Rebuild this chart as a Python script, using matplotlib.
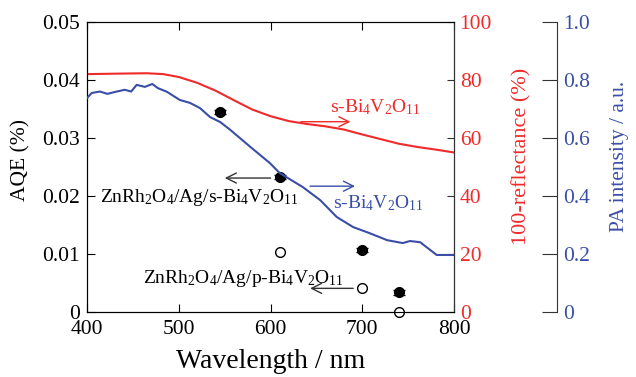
import numpy as np
import matplotlib.pyplot as plt

plt.rcParams['font.family'] = ['Liberation Serif', 'DejaVu Serif']
plt.rcParams['mathtext.fontset'] = 'custom'
plt.rcParams['mathtext.rm'] = 'Liberation Serif'
plt.rcParams['mathtext.it'] = 'Liberation Serif'

RED = '#f02a2a'
BLUE = '#3a4ea8'

# AQE points (left axis)
wl_s = [545, 610, 700, 740]
aqe_s = [0.0345, 0.0233, 0.0107, 0.0034]
wl_p = [610, 700, 740]
aqe_p = [0.0104, 0.0041, 0.0]

# 100-reflectance of s-Bi4V2O11 (right axis, %)
wl_refl = [400, 420, 440, 465, 483, 500, 520, 540, 560, 580, 600, 620, 640,
           660, 680, 700, 720, 740, 760, 780, 800]
refl = [82.0, 82.1, 82.2, 82.3, 82.0, 81.0, 79.0, 76.3, 73.0, 69.8, 67.5, 65.8,
        64.8, 64.0, 62.9, 61.2, 59.6, 58.0, 56.9, 56.0, 55.0]

# PA spectrum of s-Bi4V2O11 (third axis, a.u.)
wl_pa = [400, 405, 414, 422, 431, 441, 448, 454, 463, 471, 477, 487, 501, 512,
         523, 534, 545, 556, 578, 599, 610, 635, 654, 672, 690, 708, 727, 744,
         752, 763, 774, 781, 800]
pa = [0.738, 0.755, 0.760, 0.752, 0.759, 0.766, 0.760, 0.783, 0.776, 0.786,
      0.772, 0.759, 0.731, 0.721, 0.703, 0.672, 0.655, 0.628, 0.569, 0.514,
      0.479, 0.431, 0.386, 0.328, 0.293, 0.272, 0.248, 0.238, 0.245, 0.241,
      0.214, 0.197, 0.197]

fig = plt.figure(figsize=(6.36, 3.77), dpi=100)
ax = fig.add_axes([0.137, 0.172, 0.577, 0.770])
ax2 = ax.twinx()
ax3 = ax.twinx()
ax3.spines['right'].set_position(('axes', 1.281))
for s in ['top', 'left', 'bottom']:
    ax3.spines[s].set_visible(False)

ax2.plot(wl_refl, refl, color=RED, lw=1.5)
ax3.plot(wl_pa, pa, color=BLUE, lw=1.5)

ax.errorbar(wl_s, aqe_s, yerr=0.0004, fmt='o', color='black', ms=7,
            capsize=4, elinewidth=1, zorder=5)
ax.errorbar(wl_p, aqe_p, yerr=0.0002, fmt='o', mfc='white', mec='black',
            ecolor='black', ms=7, capsize=3, elinewidth=1, zorder=5,
            clip_on=False)

ax.set_xlim(400, 800)
ax.set_ylim(0, 0.05)
ax2.set_ylim(0, 100)
ax3.set_ylim(0, 1.0)

ax.set_xticks([400, 500, 600, 700, 800])
ax.set_yticks([0, 0.01, 0.02, 0.03, 0.04, 0.05])
ax.set_yticklabels(['0', '0.01', '0.02', '0.03', '0.04', '0.05'])
ax2.set_yticks([0, 20, 40, 60, 80, 100])
ax3.set_yticks([0, 0.2, 0.4, 0.6, 0.8, 1.0])
ax3.set_yticklabels(['0', '0.2', '0.4', '0.6', '0.8', '1.0'])

ax.tick_params(direction='in', length=6, labelsize=15.5, top=True, pad=5)
ax.tick_params(axis='x', pad=6)
ax2.tick_params(direction='in', length=5, labelsize=15.5, colors=RED, pad=4)
ax3.tick_params(direction='in', length=11, labelsize=15.5, colors=BLUE, pad=4)
ax2.tick_params(axis='y', color='#333333')
ax3.tick_params(axis='y', color='#333333')
ax2.spines['right'].set_color('#333333')
ax3.spines['right'].set_color('#333333')

ax.set_xlabel('Wavelength / nm', fontsize=20, labelpad=7)
ax.set_ylabel('AQE (%)', fontsize=15.5)
ax2.set_ylabel('100-reflectance (%)', fontsize=16, color=RED)
ax3.set_ylabel('PA intensity / a.u.', fontsize=15.5, color=BLUE)
for a in (ax, ax2, ax3):
    a.yaxis.label.set_va('center')
ax.yaxis.set_label_coords(-0.18, 0.524)
ax2.yaxis.set_label_coords(1.185, 0.538)
ax3.yaxis.set_label_coords(1.452, 0.538)

formula = 'Bi$_4$V$_2$O$_{11}$'
ax.text(665, 0.0345, 's-' + formula, color=RED, fontsize=14)
ax.annotate('', xy=(690, 0.0328), xytext=(630, 0.0328),
            arrowprops=dict(arrowstyle='->', color=RED, lw=1, mutation_scale=18))

ax.text(668, 0.0179, 's-' + formula, color=BLUE, fontsize=14)
ax.annotate('', xy=(695, 0.0217), xytext=(640, 0.0217),
            arrowprops=dict(arrowstyle='->', color=BLUE, lw=1, mutation_scale=18))

ax.text(414, 0.0190, 'ZnRh$_2$O$_4$/Ag/s-' + formula, color='black', fontsize=14)
ax.annotate('', xy=(547, 0.0231), xytext=(603, 0.0231),
            arrowprops=dict(arrowstyle='->', color='#333333', lw=1, mutation_scale=18))

ax.text(461, 0.0051, 'ZnRh$_2$O$_4$/Ag/p-' + formula, color='black', fontsize=14)
ax.annotate('', xy=(640, 0.0041), xytext=(693, 0.0041),
            arrowprops=dict(arrowstyle='->', color='#333333', lw=1, mutation_scale=18))

fig.savefig('out.png', dpi=100)
